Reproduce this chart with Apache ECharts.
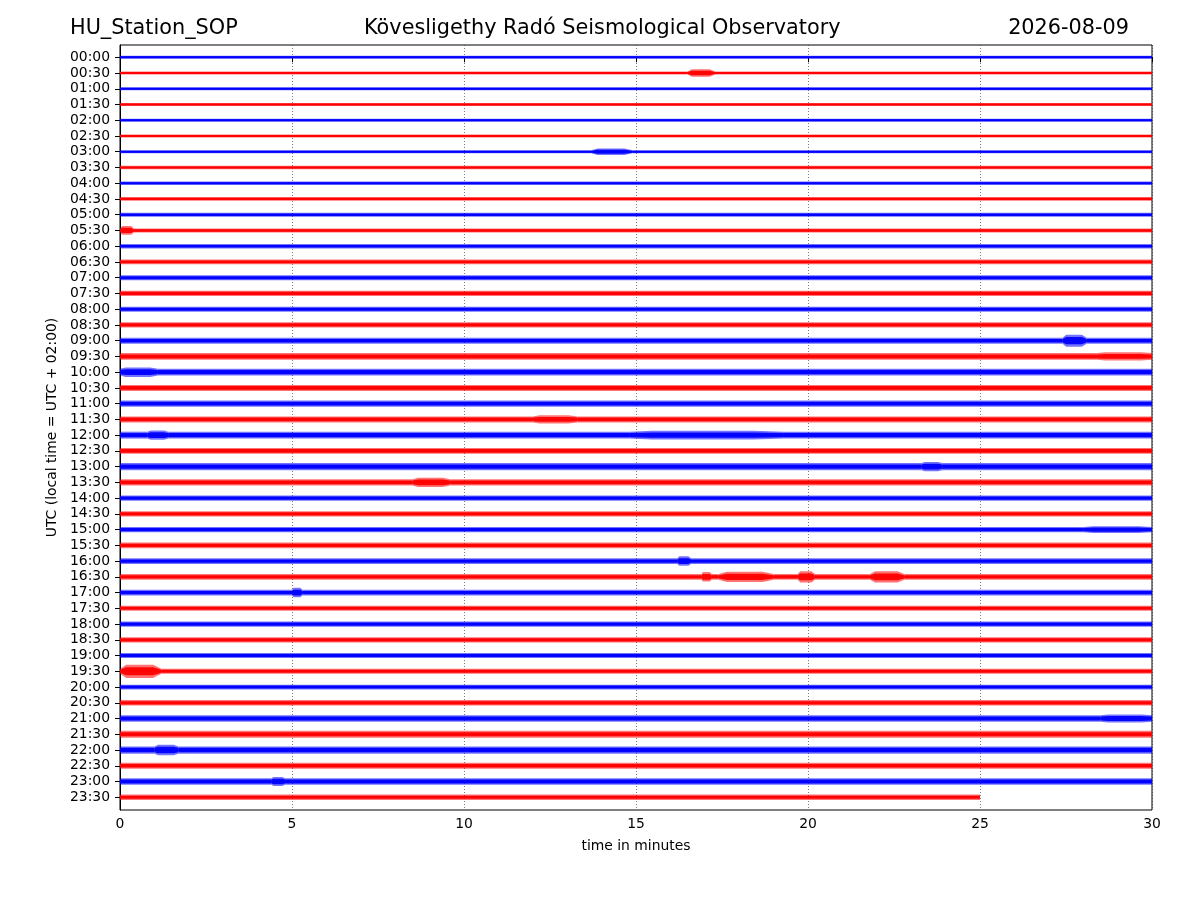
<!DOCTYPE html>
<html>
<head>
<meta charset="utf-8">
<script src="https://cdn.jsdelivr.net/npm/echarts@6/dist/echarts.min.js"></script>
<style>
  html, body { margin: 0; padding: 0; background: #fff; }
  #chart { width: 1200px; height: 900px; }
</style>
</head>
<body>
<div id="chart"></div>
<script>
/* helicorder, one trace per 30 minutes */
var slotLabels = ['00:00','00:30','01:00','01:30','02:00','02:30','03:00','03:30','04:00','04:30',
  '05:00','05:30','06:00','06:30','07:00','07:30','08:00','08:30','09:00','09:30',
  '10:00','10:30','11:00','11:30','12:00','12:30','13:00','13:30','14:00','14:30',
  '15:00','15:30','16:00','16:30','17:00','17:30','18:00','18:30','19:00','19:30',
  '20:00','20:30','21:00','21:30','22:00','22:30','23:00','23:30'];

// background noise level of each trace (in trace spacings)
var baseAmp = [0.10,0.10,0.10,0.10,0.10,0.10,0.10,0.11,0.11,0.12,
  0.13,0.13,0.14,0.15,0.16,0.17,0.16,0.17,0.19,0.21,
  0.22,0.19,0.20,0.19,0.22,0.19,0.23,0.20,0.17,0.17,
  0.17,0.18,0.18,0.18,0.18,0.16,0.17,0.17,0.16,0.16,
  0.15,0.17,0.21,0.22,0.23,0.19,0.21,0.17];

// louder parts: [trace, from minute, to minute, amplitude]
var events = [
  [1, 16.5, 17.3, 0.24],
  [6, 13.7, 14.9, 0.20],
  [11, 0.0, 0.4, 0.28],
  [18, 27.4, 28.1, 0.38],
  [19, 28.4, 30.0, 0.26],
  [20, 0.0, 1.1, 0.30],
  [23, 12.0, 13.3, 0.26],
  [24, 0.8, 1.4, 0.30],
  [24, 14.8, 19.3, 0.28],
  [26, 23.3, 23.9, 0.30],
  [27, 8.5, 9.6, 0.30],
  [30, 28.0, 30.0, 0.22],
  [32, 16.2, 16.6, 0.30],
  [33, 16.9, 17.2, 0.30],
  [33, 17.4, 19.0, 0.33],
  [33, 19.7, 20.2, 0.36],
  [33, 21.8, 22.8, 0.36],
  [34, 5.0, 5.3, 0.30],
  [39, 0.0, 1.2, 0.42],
  [42, 28.5, 30.0, 0.26],
  [44, 1.0, 1.7, 0.34],
  [46, 4.4, 4.8, 0.29]
];

var traceLength = 30;
var lastTraceEnd = 25;

// build [from, to, trace, amp, isEvent] segments
var blueSeg = [], redSeg = [];
for (var i = 0; i < slotLabels.length; i++) {
  var end = (i === slotLabels.length - 1) ? lastTraceEnd : traceLength;
  var ev = events.filter(function (e) { return e[0] === i; }).sort(function (a, b) { return a[1] - b[1]; });
  var pos = 0;
  var out = (i % 2 === 0) ? blueSeg : redSeg;
  ev.forEach(function (e) {
    if (e[1] > pos) out.push([pos, Math.min(e[1], end), i, baseAmp[i], 0]);
    out.push([e[1], Math.min(e[2], end), i, e[3], 1]);
    pos = e[2];
  });
  if (pos < end) out.push([pos, end, i, baseAmp[i], 0]);
}

// envelope polygon: flat for noise, short ramps at both ends for events
function envelope(api, x0, x1, t, a, b, isEvent) {
  var xs, amps;
  if (isEvent) {
    var L = x1 - x0;
    xs = [x0, x0 + 0.15 * L, x1 - 0.2 * L, x1];
    amps = [b, a, a, b];
  } else {
    xs = [x0, x1];
    amps = [a, a];
  }
  var top = [], bot = [];
  for (var k = 0; k < xs.length; k++) {
    top.push(api.coord([xs[k], t - amps[k]]));
    bot.unshift(api.coord([xs[k], t + amps[k]]));
  }
  return top.concat(bot);
}

function renderTrace(params, api) {
  var x0 = api.value(0), x1 = api.value(1), t = api.value(2), a = api.value(3), ev = api.value(4);
  var b = baseAmp[t];
  var color = api.visual('color');
  var mid0 = api.coord([x0, t]);
  var mid1 = api.coord([x1, t]);
  return {
    type: 'group',
    children: [
      { type: 'polygon', shape: { points: envelope(api, x0, x1, t, a, b, ev) }, style: { fill: color, opacity: 0.55 } },
      { type: 'polygon', shape: { points: envelope(api, x0, x1, t, a * 0.6, b * 0.6, ev) }, style: { fill: color, opacity: 0.95 } },
      { type: 'rect', shape: { x: mid0[0], y: mid0[1] - 0.75, width: mid1[0] - mid0[0], height: 1.5 }, style: { fill: color } }
    ]
  };
}

var font = 'DejaVu Sans';
var titleStyle = { fontSize: 20.8, fontWeight: 'normal', color: '#000', fontFamily: font };
var chart = echarts.init(document.getElementById('chart'));
chart.setOption({
  animation: false,
  textStyle: { fontFamily: font },
  title: [
    { text: 'HU_Station_SOP', left: 70, top: 18, padding: 0, textStyle: titleStyle },
    { text: 'Kövesligethy Radó Seismological Observatory', left: 364, top: 18, padding: 0, textStyle: titleStyle },
    { text: '2026-08-09', right: 71, top: 18, padding: 0, textStyle: titleStyle }
  ],
  grid: { left: 120, right: 48, top: 45, bottom: 90, show: true, borderColor: '#000', borderWidth: 1 },
  xAxis: {
    type: 'value', min: 0, max: 30, interval: 5,
    name: 'time in minutes', nameLocation: 'middle', nameGap: 29,
    nameTextStyle: { fontSize: 13.9, color: '#000', fontFamily: font },
    axisLine: { lineStyle: { color: '#000', width: 1 } },
    axisTick: { length: 5, lineStyle: { color: '#000' } },
    axisLabel: { fontSize: 13.9, color: '#000', margin: 7, fontFamily: font },
    splitLine: { show: true, lineStyle: { color: '#444', width: 0.7, type: [1, 2] } }
  },
  yAxis: {
    type: 'value', inverse: true, min: -0.78, max: 47.81,
    name: 'UTC (local time = UTC + 02:00)', nameLocation: 'middle', nameGap: 58, nameRotate: 90,
    nameTextStyle: { fontSize: 13.9, color: '#000', fontFamily: font },
    axisLine: { show: true, lineStyle: { color: '#000', width: 1 } },
    axisTick: { show: true, length: 5, lineStyle: { color: '#000' }, customValues: slotLabels.map(function (s, k) { return k; }) },
    axisLabel: {
      fontSize: 13.9, color: '#000', margin: 10, fontFamily: font,
      customValues: slotLabels.map(function (s, k) { return k; }),
      formatter: function (v) { return slotLabels[Math.round(v)]; }
    },
    splitLine: { show: false }
  },
  series: [
    { type: 'custom', name: 'blue', color: '#0000ff', renderItem: renderTrace, encode: { x: [0, 1], y: 2 }, data: blueSeg },
    { type: 'custom', name: 'red', color: '#ff0000', renderItem: renderTrace, encode: { x: [0, 1], y: 2 }, data: redSeg }
  ]
});
</script>
</body>
</html>
